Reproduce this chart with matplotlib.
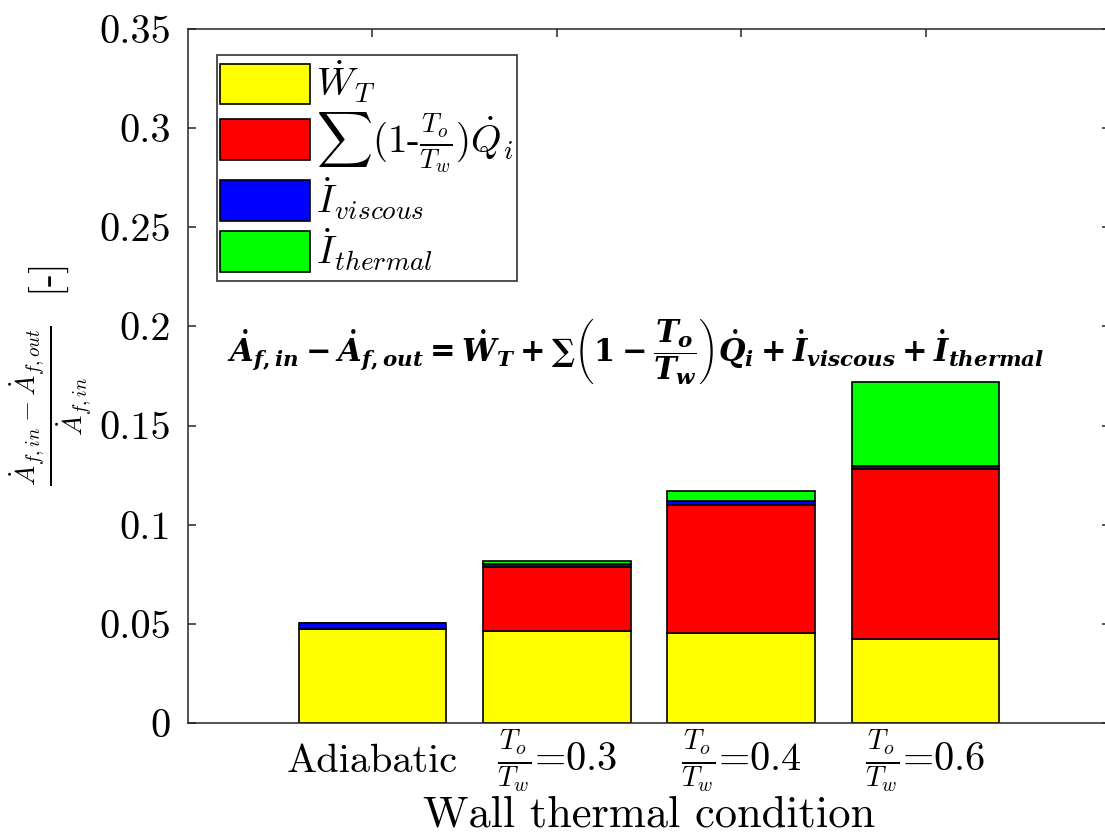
import matplotlib
matplotlib.use("Agg")
import matplotlib.pyplot as plt
import matplotlib.patches as mpatches
from matplotlib.legend_handler import HandlerPatch
import numpy as np

plt.rcParams['font.family'] = ['cmr10', 'DejaVu Serif']
plt.rcParams['mathtext.fontset'] = 'cm'
plt.rcParams['axes.formatter.use_mathtext'] = True
plt.rcParams['mathtext.rm'] = 'DejaVu Serif:bold'
plt.rcParams['mathtext.it'] = 'DejaVu Serif:italic:bold'
plt.rcParams['mathtext.bf'] = 'DejaVu Serif:bold'

categories = ['Adiabatic', r'$\frac{T_o}{T_w}$=0.3', r'$\frac{T_o}{T_w}$=0.4', r'$\frac{T_o}{T_w}$=0.6']
w_turbine = [0.0476, 0.0466, 0.0455, 0.0424]
q_heat = [0.0, 0.032, 0.0645, 0.0856]
i_viscous = [0.003, 0.0015, 0.002, 0.0015]
i_thermal = [0.0, 0.0015, 0.005, 0.0425]
series_labels = [r'$\dot{W}_T$', r'$\sum(1$-$\frac{T_o}{T_w})\dot{Q}_i$',
                 r'$\dot{I}_{viscous}$', r'$\dot{I}_{thermal}$']
series_colors = ['#FFFF00', '#FF0000', '#0000FF', '#00FF00']
yticks = [0, 0.05, 0.1, 0.15, 0.2, 0.25, 0.3, 0.35]
yticklabels = ['0', '0.05', '0.1', '0.15', '0.2', '0.25', '0.3', '0.35']

fig = plt.figure(figsize=(11.05, 8.35), dpi=100)
ax = fig.add_axes([188/1105, 112/835, 922/1105, 694/835])

x = np.arange(1, len(categories) + 1)
bottom = np.zeros(len(categories))
handles = []
for vals, col, lab in zip([w_turbine, q_heat, i_viscous, i_thermal], series_colors, series_labels):
    h = ax.bar(x, vals, width=0.8, bottom=bottom, color=col, edgecolor='black',
               linewidth=1.2, label=lab)
    handles.append(h.patches[0])
    bottom = bottom + np.array(vals)

ax.set_xlim(0, 5)
ax.set_ylim(0, 0.35)
ax.set_xticks(x)
ax.set_xticklabels(categories, fontsize=29)
ax.set_yticks(yticks)
ax.set_yticklabels(yticklabels, fontsize=29)
ax.tick_params(direction='in', length=6, width=1.1, color='#262626',
               top=True, right=True, bottom=True, left=True)
ax.tick_params(axis='y', pad=12.5)
ax.tick_params(axis='x', pad=28)
for t in ax.get_xticklabels():
    t.set_verticalalignment('center')
ax.set_axisbelow(True)
for s in ax.spines.values():
    s.set_linewidth(1.1)
    s.set_color('#262626')

ax.set_xlabel('Wall thermal condition', fontsize=32, labelpad=0)
ax.set_ylabel(r'$\frac{\dot{A}_{f,in}-\dot{A}_{f,out}}{\dot{A}_{f,in}}$  [-]', fontsize=28)
ax.yaxis.set_label_coords(-0.102, 0.5)


def small_rect(legend, orig_handle, xdescent, ydescent, width, height, fontsize):
    h = height * 0.79
    return mpatches.Rectangle((-xdescent, -ydescent + (height - h) / 2), width, h)


leg = ax.legend(handles=handles, labels=series_labels, loc='upper left',
                bbox_to_anchor=(0.031, 0.963),
                fontsize=28, handlelength=2.3, handleheight=1.65, labelspacing=0.0,
                handletextpad=0.15, borderpad=0.1, borderaxespad=0, fancybox=False,
                framealpha=1, edgecolor='#404040',
                handler_map={mpatches.Rectangle: HandlerPatch(patch_func=small_rect)})
leg.get_frame().set_linewidth(1.3)

ax.text(0.486, 0.535,
        r'$\dot{A}_{f,in}-\dot{A}_{f,out}=\dot{W}_T+\sum\left(1-\dfrac{T_o}{T_w}\right)\dot{Q}_i+\dot{I}_{viscous}+\dot{I}_{thermal}$',
        transform=ax.transAxes, ha='center', va='center', fontsize=22,
        math_fontfamily='custom')

fig.savefig('out.png', dpi=100)
